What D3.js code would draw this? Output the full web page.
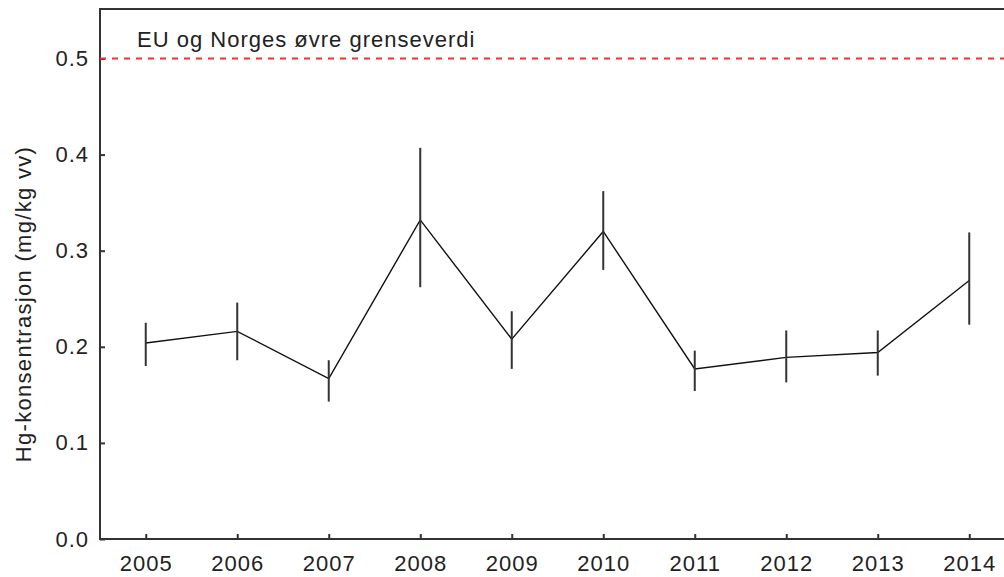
<!DOCTYPE html>
<html>
<head>
<meta charset="utf-8">
<script src="https://cdn.jsdelivr.net/npm/d3@7"></script>
<style>
  body { margin: 0; background: white; }
  text { font-family: "Liberation Sans", Arial, sans-serif; }
</style>
</head>
<body>
<script>
// data
var years = [2005, 2006, 2007, 2008, 2009, 2010, 2011, 2012, 2013, 2014];
var means = [0.204, 0.216, 0.167, 0.332, 0.208, 0.320, 0.177, 0.189, 0.194, 0.269];
var upper = [0.225, 0.246, 0.186, 0.407, 0.237, 0.362, 0.196, 0.217, 0.217, 0.319];
var lower = [0.180, 0.186, 0.143, 0.262, 0.177, 0.280, 0.154, 0.163, 0.170, 0.223];
var yTicks = [0.0, 0.1, 0.2, 0.3, 0.4, 0.5];
var limitValue = 0.5;
var limitLabel = "EU og Norges øvre grenseverdi";
var yLabel = "Hg-konsentrasjon (mg/kg vv)";

var data = years.map(function(yr, i) {
  return {year: yr, mean: means[i], hi: upper[i], lo: lower[i]};
});

var width = 1004, height = 577;
var plot = {left: 100, top: 9, right: 1015, bottom: 539};

var svg = d3.select("body")
  .append("svg")
    .attr("width", width)
    .attr("height", height)
    .style("background-color", "white");

var x = d3.scaleLinear()
  .domain([2004.5, 2014.5])
  .range([plot.left, plot.right]);

var y = d3.scaleLinear()
  .domain([0, 0.5])
  .range([plot.bottom, 58.5]);

// frame
svg.append("rect")
  .attr("x", plot.left)
  .attr("y", plot.top)
  .attr("width", plot.right - plot.left)
  .attr("height", plot.bottom - plot.top)
  .attr("fill", "none")
  .attr("stroke", "#333")
  .attr("stroke-width", 2);

// Y axis (ticks point inward)
var yAxis = svg.append("g")
  .attr("transform", "translate(" + plot.left + ",0)")
  .call(d3.axisLeft(y)
    .tickValues(yTicks)
    .tickFormat(d3.format(".1f"))
    .tickSize(-5)
    .tickPadding(11));

// X axis
var xAxis = svg.append("g")
  .attr("transform", "translate(0," + plot.bottom + ")")
  .call(d3.axisBottom(x)
    .tickValues(years)
    .tickFormat(d3.format("d"))
    .tickSize(-5)
    .tickPadding(16));

[yAxis, xAxis].forEach(function(ax) {
  ax.select(".domain").remove();
  ax.selectAll(".tick line").attr("stroke", "#333").attr("stroke-width", 2);
  ax.selectAll("text")
    .style("font-family", "'Liberation Sans', Arial, sans-serif")
    .style("font-size", "22px")
    .style("letter-spacing", "1px")
    .attr("fill", "#222");
});

// y axis title
svg.append("text")
  .attr("transform", "translate(31,304) rotate(-90)")
  .attr("text-anchor", "middle")
  .style("font-size", "22px")
  .style("letter-spacing", "1.3px")
  .attr("fill", "#222")
  .text(yLabel);

// limit line
svg.append("line")
  .attr("x1", plot.left)
  .attr("x2", width)
  .attr("y1", y(limitValue))
  .attr("y2", y(limitValue))
  .attr("stroke", "#ff2a2a")
  .attr("stroke-width", 2)
  .attr("stroke-dasharray", "6,6");

svg.append("text")
  .attr("x", 137)
  .attr("y", 47)
  .style("font-size", "22px")
  .style("letter-spacing", "1px")
  .attr("fill", "#222")
  .text(limitLabel);

// mean line
var line = d3.line()
  .x(function(d) { return x(d.year); })
  .y(function(d) { return y(d.mean); });

svg.append("path")
  .datum(data)
  .attr("d", line)
  .attr("fill", "none")
  .attr("stroke", "#111")
  .attr("stroke-width", 1.4);

// error bars
svg.selectAll(".err")
  .data(data)
  .enter()
  .append("line")
    .attr("class", "err")
    .attr("x1", function(d) { return x(d.year); })
    .attr("x2", function(d) { return x(d.year); })
    .attr("y1", function(d) { return y(d.hi); })
    .attr("y2", function(d) { return y(d.lo); })
    .attr("stroke", "#333")
    .attr("stroke-width", 2);
</script>
</body>
</html>
